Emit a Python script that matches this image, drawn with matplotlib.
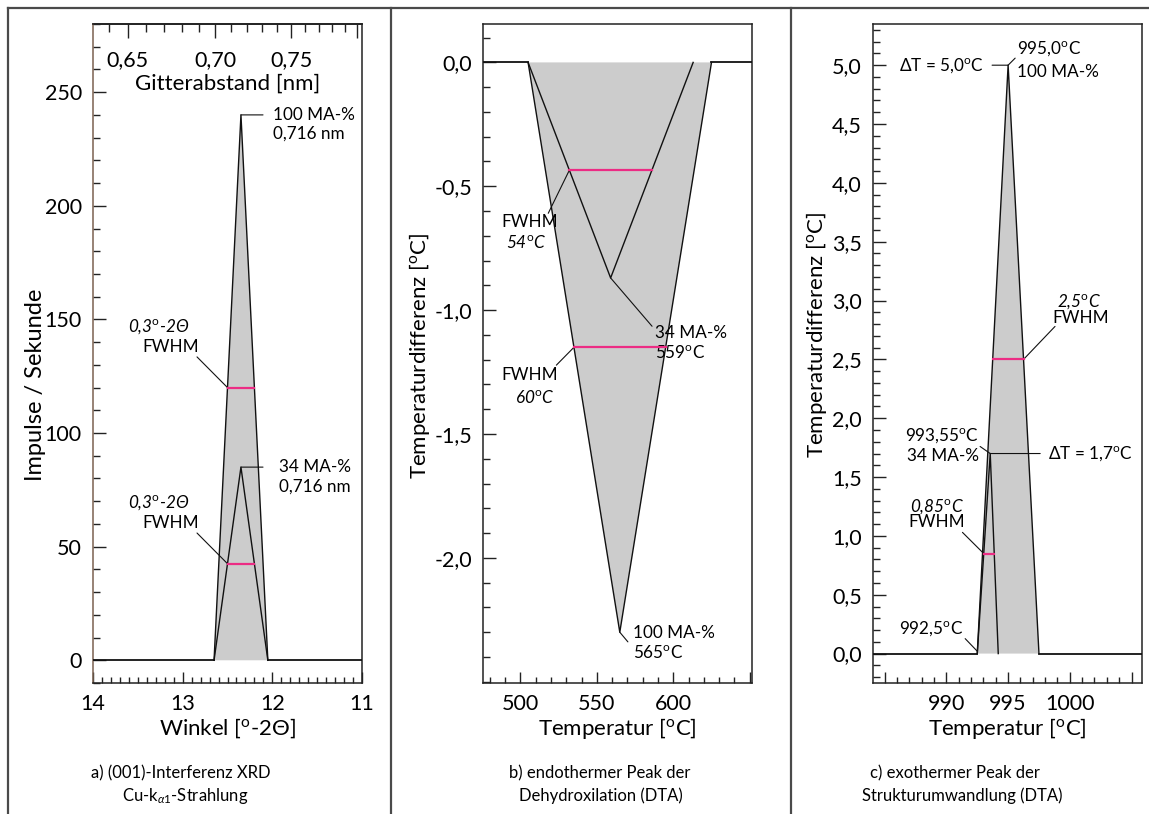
import numpy as np
import matplotlib
matplotlib.use("Agg")
import matplotlib.pyplot as plt
from matplotlib.lines import Line2D
from matplotlib.ticker import MultipleLocator, FuncFormatter, FixedLocator

plt.rcParams['font.family'] = ['Lato', 'DejaVu Sans']
plt.rcParams['mathtext.fontset'] = 'custom'
plt.rcParams['mathtext.rm'] = 'Lato'
plt.rcParams['mathtext.it'] = 'Lato:italic'
plt.rcParams['mathtext.bf'] = 'Lato:bold'
plt.rcParams['xtick.direction'] = 'in'
plt.rcParams['ytick.direction'] = 'in'
plt.rcParams['xtick.major.size'] = 8
plt.rcParams['xtick.minor.size'] = 4.5
plt.rcParams['ytick.major.size'] = 9.5
plt.rcParams['ytick.minor.size'] = 5
plt.rcParams['xtick.major.width'] = 1.0
plt.rcParams['xtick.minor.width'] = 1.0
plt.rcParams['ytick.major.width'] = 1.0
plt.rcParams['ytick.minor.width'] = 1.0
plt.rcParams['xtick.color'] = '#222222'
plt.rcParams['ytick.color'] = '#222222'
plt.rcParams['xtick.labelcolor'] = 'black'
plt.rcParams['ytick.labelcolor'] = 'black'

# ---------------- data ----------------
# a) XRD (001) interference, Cu-K alpha1
xrd_2theta_100 = [12.65, 12.35, 12.05]
xrd_counts_100 = [0, 240, 0]
xrd_2theta_34 = [12.65, 12.35, 12.05]
xrd_counts_34 = [0, 85, 0]
cu_ka1_nm = 0.15406

# b) endothermic DTA peak (dehydroxylation)
dta_b_T_100 = [505, 565, 625]
dta_b_dT_100 = [0.0, -2.3, 0.0]
dta_b_T_34 = [505, 559, 613]
dta_b_dT_34 = [0.0, -0.87, 0.0]

# c) exothermic DTA peak (structural transformation)
dta_c_T_100 = [992.5, 995.0, 997.5]
dta_c_dT_100 = [0.0, 5.0, 0.0]
dta_c_T_34 = [992.5, 993.55, 994.2]
dta_c_dT_34 = [0.0, 1.7, 0.0]

top_ticks_nm = [0.65, 0.70, 0.75, 0.80]
top_tick_labels = ['0,65', '0,70', '0,75', '']

W, H = 1149, 814
fig = plt.figure(figsize=(W / 100, H / 100), dpi=100)

MAG = '#ec2c84'
GRAY = '#cccccc'
TICK_FS = 15.5
LAB_FS = 16
ANN_FS = 12.3
CAP_FS = 12
DEG = r'$^{\rm o}$'


def ax_rect(left_px):
    return [left_px / W, 1 - 683 / H, 269 / W, 659 / H]


def comma_fmt(nd):
    def f(v, pos):
        s = f"{v:.{nd}f}".replace('.', ',')
        if s in ('-0', '-0,0'):
            s = s[1:]
        return s
    return FuncFormatter(f)


def half_width(xs, ys):
    h = ys[1] / 2.0
    xl = xs[0] + (xs[1] - xs[0]) * 0.5
    xr = xs[1] + (xs[2] - xs[1]) * 0.5
    return xl, xr, h


def draw_peaks(ax, x100, y100, x34, y34, xlim):
    ax.fill(x100, y100, color=GRAY, lw=0, zorder=1)
    ax.plot([xlim[0], x100[0]], [0, 0], color='#111111', lw=1.3, zorder=3)
    ax.plot([x100[-1], xlim[1]], [0, 0], color='#111111', lw=1.3, zorder=3)
    ax.plot(x100, y100, color='#111111', lw=1.0, zorder=3)
    ax.plot(x34, y34, color='#111111', lw=1.0, zorder=3)
    for xs, ys in ((x100, y100), (x34, y34)):
        xl, xr, h = half_width(xs, ys)
        ax.plot([xl, xr], [h, h], color=MAG, lw=1.6, zorder=4)


def leader(ax, p0, p1):
    ax.annotate('', xy=p0, xytext=p1,
                arrowprops=dict(arrowstyle='-', color='#111111', lw=0.8,
                                shrinkA=0, shrinkB=0))


def style_axes(ax):
    for s in ax.spines.values():
        s.set_linewidth(1.1)
        s.set_color('#222222')
    ax.tick_params(axis='both', which='both', top=False, right=False,
                   labelsize=TICK_FS)
    ax.tick_params(axis='y', which='major', pad=8)
    ax.tick_params(axis='x', which='major', pad=8)


# ---------------- panel a ----------------
axA = fig.add_axes(ax_rect(93))
xlimA = (14, 11)
axA.set_xlim(*xlimA)
axA.set_ylim(-10, 280)
draw_peaks(axA, xrd_2theta_100, xrd_counts_100, xrd_2theta_34, xrd_counts_34, xlimA)
axA.xaxis.set_major_locator(MultipleLocator(1))
axA.xaxis.set_minor_locator(MultipleLocator(0.1))
axA.yaxis.set_major_locator(FixedLocator([0, 50, 100, 150, 200, 250]))
axA.yaxis.set_minor_locator(MultipleLocator(10))
axA.xaxis.set_major_formatter(FuncFormatter(lambda v, p: f"{v:.0f}"))
style_axes(axA)
axA.spines['left'].set_color('#7a6150')


def tth_to_d(t):
    t = np.asarray(t, dtype=float)
    with np.errstate(invalid='ignore', divide='ignore'):
        return cu_ka1_nm / (2 * np.sin(np.radians(t / 2.0)))


def d_to_tth(d):
    d = np.asarray(d, dtype=float)
    with np.errstate(invalid='ignore', divide='ignore'):
        r = np.clip(cu_ka1_nm / (2 * d), -1, 1)
    return 2 * np.degrees(np.arcsin(r))


sec = axA.secondary_xaxis('top', functions=(tth_to_d, d_to_tth))
sec.set_xticks(top_ticks_nm, top_tick_labels)
sec.xaxis.set_minor_locator(FixedLocator(np.round(np.arange(0.64, 0.805, 0.01), 2)))
sec.tick_params(which='both', direction='in', labelsize=TICK_FS)
sec.tick_params(which='major', length=10, pad=-33)
sec.tick_params(which='minor', length=5.5)
sec.spines['top'].set_linewidth(1.1)
axA.text(0.5, 0.91, 'Gitterabstand [nm]', transform=axA.transAxes,
         ha='center', va='center', fontsize=LAB_FS)

axA.set_ylabel('Impulse / Sekunde', fontsize=17)
axA.yaxis.set_label_coords(-0.175, 0.452)
axA.set_xlabel('Winkel [' + DEG + '-2\u0398]', fontsize=LAB_FS)
axA.xaxis.set_label_coords(0.5, -0.05)

# annotations a
pk = (xrd_2theta_100[1], xrd_counts_100[1])
leader(axA, pk, (12.104, pk[1]))
axA.text(11.993, 239.9, '100 MA-%', fontsize=ANN_FS, ha='left', va='center')
axA.text(11.993, 231.9, '0,716 nm', fontsize=ANN_FS, ha='left', va='center')
pk = (xrd_2theta_34[1], xrd_counts_34[1])
leader(axA, pk, (12.104, pk[1]))
axA.text(11.926, 84.9, '34 MA-%', fontsize=ANN_FS, ha='left', va='center')
axA.text(11.926, 76.6, '0,716 nm', fontsize=ANN_FS, ha='left', va='center')
for xs, ys in ((xrd_2theta_100, xrd_counts_100), (xrd_2theta_34, xrd_counts_34)):
    xl, xr, h = half_width(xs, ys)
    leader(axA, (xl, h), (12.84, h + 13.5))
    axA.text(13.264, h + 26.7, '0,3' + DEG + '-2\u0398', fontsize=ANN_FS, style='italic',
             ha='center', va='center')
    axA.text(13.13, h + 17.9, 'FWHM', fontsize=ANN_FS, ha='center', va='center')

# ---------------- panel b ----------------
axB = fig.add_axes(ax_rect(483))
xlimB = (475.5, 651.5)
axB.set_xlim(*xlimB)
axB.set_ylim(-2.505, 0.155)
draw_peaks(axB, dta_b_T_100, dta_b_dT_100, dta_b_T_34, dta_b_dT_34, xlimB)
axB.xaxis.set_major_locator(FixedLocator([500, 550, 600, 650]))
axB.xaxis.set_minor_locator(MultipleLocator(10))
axB.xaxis.set_major_formatter(FuncFormatter(lambda v, p: '' if v > 620 else f"{v:.0f}"))
axB.yaxis.set_major_locator(FixedLocator([-2.0, -1.5, -1.0, -0.5, 0.0]))
axB.yaxis.set_minor_locator(MultipleLocator(0.1))
axB.yaxis.set_major_formatter(comma_fmt(1))
style_axes(axB)
axB.set_ylabel('Temperaturdifferenz [' + DEG + 'C]', fontsize=LAB_FS)
axB.yaxis.set_label_coords(-0.19, 0.497)
axB.set_xlabel('Temperatur [' + DEG + 'C]', fontsize=LAB_FS)
axB.xaxis.set_label_coords(0.5, -0.05)

pk = (dta_b_T_34[1], dta_b_dT_34[1])
leader(axB, pk, (586.1, -1.065))
axB.text(588, -1.093, '34 MA-%', fontsize=ANN_FS, ha='left', va='center')
axB.text(588, -1.17, '559' + DEG + 'C', fontsize=ANN_FS, ha='left', va='center')
xl, xr, h = half_width(dta_b_T_34, dta_b_dT_34)
leader(axB, (xl, h), (518.2, -0.609))
axB.text(506.3, -0.645, 'FWHM', fontsize=ANN_FS, ha='center', va='center')
axB.text(503.7, -0.726, '54' + DEG + 'C', fontsize=ANN_FS, style='italic', ha='center', va='center')
xl, xr, h = half_width(dta_b_T_100, dta_b_dT_100)
leader(axB, (xl, h), (523.5, -1.222))
axB.text(506.3, -1.262, 'FWHM', fontsize=ANN_FS, ha='center', va='center')
axB.text(509.3, -1.351, '60' + DEG + 'C', fontsize=ANN_FS, style='italic', ha='center', va='center')
pk = (dta_b_T_100[1], dta_b_dT_100[1])
leader(axB, pk, (570.3, -2.339))
axB.text(573.6, -2.302, '100 MA-%', fontsize=ANN_FS, ha='left', va='center')
axB.text(573.6, -2.383, '565' + DEG + 'C', fontsize=ANN_FS, ha='left', va='center')

# ---------------- panel c ----------------
axC = fig.add_axes(ax_rect(873))
xlimC = (984.05, 1005.85)
axC.set_xlim(*xlimC)
axC.set_ylim(-0.25, 5.35)
draw_peaks(axC, dta_c_T_100, dta_c_dT_100, dta_c_T_34, dta_c_dT_34, xlimC)
axC.xaxis.set_major_locator(FixedLocator([985, 990, 995, 1000, 1005]))
axC.xaxis.set_minor_locator(MultipleLocator(1))
axC.xaxis.set_major_formatter(FuncFormatter(lambda v, p: f"{v:.0f}" if 988 < v < 1002 else ''))
axC.yaxis.set_major_locator(MultipleLocator(0.5))
axC.yaxis.set_minor_locator(MultipleLocator(0.1))
axC.yaxis.set_major_formatter(comma_fmt(1))
style_axes(axC)
axC.set_ylabel('Temperaturdifferenz [' + DEG + 'C]', fontsize=LAB_FS)
axC.yaxis.set_label_coords(-0.164, 0.528)
axC.set_xlabel('Temperatur [' + DEG + 'C]', fontsize=LAB_FS)
axC.xaxis.set_label_coords(0.5, -0.05)

pk = (dta_c_T_100[1], dta_c_dT_100[1])
leader(axC, pk, (993.7, pk[1]))
leader(axC, pk, (995.57, 5.06))
axC.text(992.98, 5.0, '\u0394T = 5,0' + DEG + 'C', fontsize=ANN_FS, ha='right', va='center')
axC.text(995.73, 5.14, '995,0' + DEG + 'C', fontsize=ANN_FS, ha='left', va='center')
axC.text(995.73, 4.94, '100 MA-%', fontsize=ANN_FS, ha='left', va='center')
xl, xr, h = half_width(dta_c_T_100, dta_c_dT_100)
leader(axC, (xr, h), (998.8, 2.78))
axC.text(1000.75, 2.99, '2,5' + DEG + 'C', fontsize=ANN_FS, style='italic', ha='center', va='center')
axC.text(1000.9, 2.85, 'FWHM', fontsize=ANN_FS, ha='center', va='center')
pk = (dta_c_T_34[1], dta_c_dT_34[1])
leader(axC, pk, (997.6, pk[1]))
leader(axC, pk, (992.73, 1.76))
axC.text(998.2, 1.7, '\u0394T = 1,7' + DEG + 'C', fontsize=ANN_FS, ha='left', va='center')
axC.text(992.65, 1.85, '993,55' + DEG + 'C', fontsize=ANN_FS, ha='right', va='center')
axC.text(992.6, 1.68, '34 MA-%', fontsize=ANN_FS, ha='right', va='center')
xl, xr, h = half_width(dta_c_T_34, dta_c_dT_34)
leader(axC, (xl, h), (991.3, 1.03))
axC.text(989.2, 1.25, '0,85' + DEG + 'C', fontsize=ANN_FS, style='italic', ha='center', va='center')
axC.text(989.25, 1.12, 'FWHM', fontsize=ANN_FS, ha='center', va='center')
leader(axC, (dta_c_T_100[0], 0.02), (991.52, 0.127))
axC.text(991.36, 0.21, '992,5' + DEG + 'C', fontsize=ANN_FS, ha='right', va='center')

# ---------------- captions ----------------
def ftext(xp, yp, s, ha='center'):
    fig.text(xp / W, 1 - yp / H, s, ha=ha, va='center', fontsize=CAP_FS)


ftext(181, 773, 'a) (001)-Interferenz XRD')
ftext(185, 796, r'Cu-k$_{\alpha1}$-Strahlung')
ftext(600, 773, 'b) endothermer Peak der')
ftext(601, 796, 'Dehydroxilation (DTA)')
ftext(870, 773, 'c) exothermer Peak der', ha='left')
ftext(862, 796, 'Strukturumwandlung (DTA)', ha='left')

# ---------------- frame lines ----------------
FR = '#4a4a4a'
for xs, ys in (([8, W], [8, 8]), ([8, 8], [8, H]), ([391, 391], [8, H]), ([791, 791], [8, H])):
    fig.add_artist(Line2D([x / W for x in xs], [1 - y / H for y in ys],
                          transform=fig.transFigure, color=FR, lw=1.6))

fig.savefig('out.png', dpi=100)
